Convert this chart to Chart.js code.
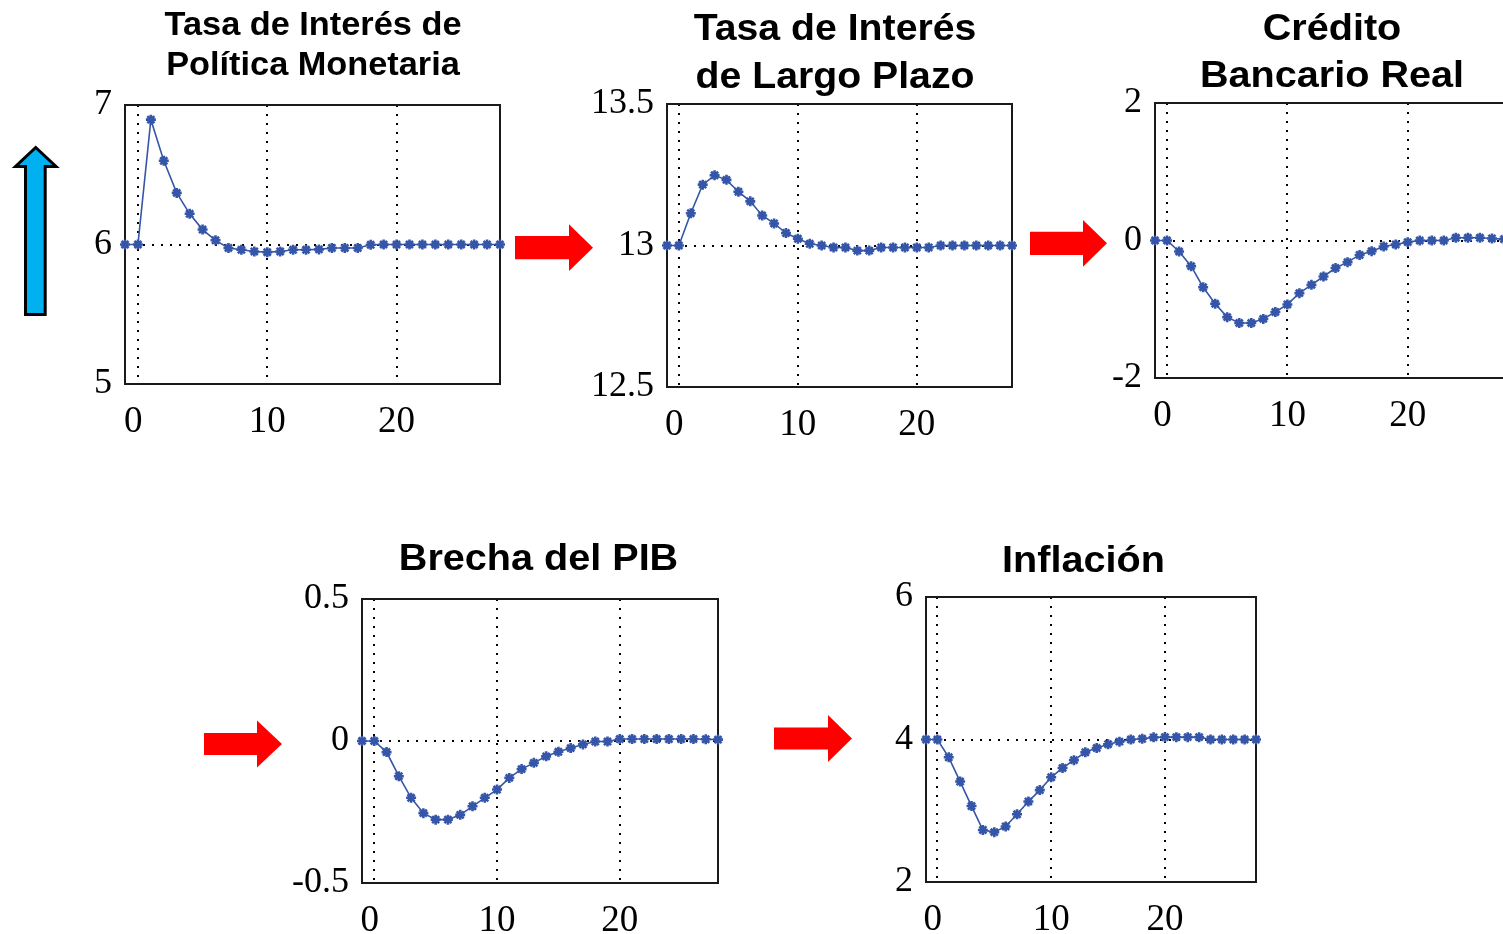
<!DOCTYPE html>
<html lang="es">
<head>
<meta charset="utf-8">
<title>Transmisión de la política monetaria</title>
<script src="https://cdn.jsdelivr.net/npm/chart.js@4.4.1/dist/chart.umd.min.js"></script>
<style>
  html, body { margin: 0; padding: 0; background: #fff; width: 1503px; height: 934px; overflow: hidden; }
  .panel { position: absolute; }
  #arrows { position: absolute; left: 0; top: 0; z-index: 5; pointer-events: none; }
</style>
</head>
<body>
<svg id="arrows" width="1503" height="934" xmlns="http://www.w3.org/2000/svg">
  <!-- policy-rate shock -->
  <polygon points="25.5,314.5 25.5,166.5 15.5,166.5 35.7,147.5 56,166.5 45.2,166.5 45.2,314.5"
           fill="#00B0F0" stroke="#000" stroke-width="3" stroke-linejoin="miter"/>
  <!-- transmission arrows -->
  <polygon points="515,236 569,236 569,224.3 593,247.7 569,271 569,259.3 515,259.3" fill="#FF0000"/>
  <polygon points="1030,231.7 1083,231.7 1083,220 1107,243.3 1083,266.7 1083,255 1030,255" fill="#FF0000"/>
  <polygon points="204,733 257,733 257,720.5 282,744 257,767.5 257,755 204,755" fill="#FF0000"/>
  <polygon points="774,727.5 828,727.5 828,715 852,738.5 828,762 828,749.5 774,749.5" fill="#FF0000"/>
</svg>

<script>
// Horizon (quarters) shared by every panel
const periods = [-1, 0, 1, 2, 3, 4, 5, 6, 7, 8, 9, 10, 11, 12, 13, 14,
                 15, 16, 17, 18, 19, 20, 21, 22, 23, 24, 25, 26, 27, 28];
const xTicks = [0, 10, 20];
const xTickLabels = ['0 ', '10', '20'];

// Impulse responses
const tasaPolitica = [6.0, 6.0, 6.895, 6.60, 6.37, 6.22, 6.107, 6.03, 5.975, 5.962,
                      5.95, 5.945, 5.95, 5.962, 5.962, 5.965, 5.975, 5.975, 5.975, 5.998,
                      6.0, 6.0, 6.0, 6.0, 6.0, 6.0, 6.0, 6.0, 6.0, 6.0];
const tasaLargo = [13.0, 13.0, 13.114, 13.215, 13.248, 13.232, 13.19, 13.156, 13.106, 13.078,
                   13.044, 13.024, 13.006, 13.0, 12.993, 12.993, 12.982, 12.982, 12.993, 12.993,
                   12.993, 12.993, 12.993, 13.0, 13.0, 13.0, 13.0, 13.0, 13.0, 13.0];
const creditoReal = [0, 0, -0.16, -0.373, -0.68, -0.92, -1.115, -1.20, -1.20, -1.14,
                     -1.04, -0.93, -0.766, -0.645, -0.524, -0.40, -0.315, -0.21, -0.155, -0.087,
                     -0.058, -0.024, 0, 0, 0, 0.04, 0.04, 0.04, 0.03, 0.02];
const brechaPib = [0, 0, -0.039, -0.124, -0.20, -0.254, -0.277, -0.277, -0.26, -0.23,
                   -0.20, -0.171, -0.130, -0.099, -0.077, -0.054, -0.038, -0.025, -0.012, -0.002,
                   -0.002, 0.007, 0.007, 0.007, 0.007, 0.007, 0.007, 0.007, 0.006, 0.005];
const inflacion = [4.0, 4.0, 3.75, 3.41, 3.066, 2.73, 2.70, 2.78, 2.95, 3.13,
                   3.29, 3.47, 3.60, 3.71, 3.82, 3.88, 3.934, 3.97, 4.0, 4.01,
                   4.03, 4.033, 4.033, 4.033, 4.033, 4.0, 4.0, 4.0, 4.0, 4.0];

// Axis ticks and their printed labels
const ticksPolitica = [5, 6, 7];          const labelsPolitica = ['5', '6', '7'];
const ticksLargo = [12.5, 13, 13.5];      const labelsLargo = ['12.5', '13', '13.5'];
const ticksCredito = [-2, 0, 2];          const labelsCredito = ['-2', '0', '2'];
const ticksBrecha = [-0.5, 0, 0.5];       const labelsBrecha = ['-0.5', '0', '0.5'];
const ticksInflacion = [2, 4, 6];         const labelsInflacion = ['2', '4', '6'];

// Titles
const tituloPolitica = ['Tasa de Interés de', 'Política Monetaria'];
const tituloLargo = ['Tasa de Interés', 'de Largo Plazo'];
const tituloCredito = ['Crédito', 'Bancario Real'];
const tituloBrecha = ['Brecha del PIB'];
const tituloInflacion = ['Inflación'];

// ---- layout and style ----
const AXIS_W = 90;
const AXIS_H = 60;
const RIGHT_PAD = 12;
const LINE_BLUE = '#3556A8';
const SERIF = "'Liberation Serif', 'Times New Roman', serif";
const SANS = "'Liberation Sans', Arial, sans-serif";

const panels = [
  { values: tasaPolitica, ticks: ticksPolitica, labels: labelsPolitica, title: tituloPolitica,
    box: { left: 125, top: 105, right: 500, bottom: 384 }, originY: 0,
    titleFont: 33, titleStretch: 1.04, titleX: 313, titleBase: [35, 75] },
  { values: tasaLargo, ticks: ticksLargo, labels: labelsLargo, title: tituloLargo,
    box: { left: 667, top: 104, right: 1012, bottom: 387 }, originY: 0,
    titleFont: 37, titleStretch: 1.06, titleX: 835, titleBase: [40, 88] },
  { values: creditoReal, ticks: ticksCredito, labels: labelsCredito, title: tituloCredito,
    box: { left: 1155, top: 103, right: 1504, bottom: 378 }, originY: 0,
    titleFont: 37, titleStretch: 1.07, titleX: 1332, titleBase: [40, 87] },
  { values: brechaPib, ticks: ticksBrecha, labels: labelsBrecha, title: tituloBrecha,
    box: { left: 362, top: 599, right: 718, bottom: 883 }, originY: 520,
    titleFont: 37, titleStretch: 1.07, titleX: 538.5, titleBase: [570] },
  { values: inflacion, ticks: ticksInflacion, labels: labelsInflacion, title: tituloInflacion,
    box: { left: 926, top: 597, right: 1256, bottom: 882 }, originY: 520,
    titleFont: 37, titleStretch: 1.07, titleX: 1083.5, titleBase: [572] }
];

// Frame around the plotting area and the panel title
const framePlugin = {
  id: 'frameAndTitle',
  beforeDatasetsDraw(chart, args, opts) {
    const a = chart.chartArea;
    const ctx = chart.ctx;
    ctx.save();
    ctx.strokeStyle = '#1a1a1a';
    ctx.lineWidth = 2;
    ctx.strokeRect(a.left, a.top, a.right - a.left, a.bottom - a.top);
    ctx.restore();
  },
  afterDraw(chart, args, opts) {
    const ctx = chart.ctx;
    ctx.save();
    ctx.fillStyle = '#000';
    ctx.font = 'bold ' + opts.size + 'px ' + SANS;
    ctx.textAlign = 'center';
    ctx.textBaseline = 'alphabetic';
    opts.lines.forEach((line, i) => {
      ctx.save();
      ctx.translate(opts.x, opts.baselines[i]);
      ctx.scale(opts.stretch, 1);
      ctx.fillText(line, 0, 0);
      ctx.restore();
    });
    ctx.restore();
  }
};

panels.forEach(p => {
  const x0 = p.box.left - AXIS_W;
  const y0 = p.originY;
  const w = (p.box.right - p.box.left) + AXIS_W + RIGHT_PAD;
  const h = (p.box.bottom - y0) + AXIS_H;

  const div = document.createElement('div');
  div.className = 'panel';
  div.style.left = x0 + 'px';
  div.style.top = y0 + 'px';
  div.style.width = w + 'px';
  div.style.height = h + 'px';
  const canvas = document.createElement('canvas');
  div.appendChild(canvas);
  document.body.appendChild(div);

  const mid = p.ticks[1];

  new Chart(canvas, {
    type: 'line',
    data: {
      datasets: [{
        data: periods.map((x, i) => ({ x: x, y: p.values[i] })),
        borderColor: LINE_BLUE,
        backgroundColor: LINE_BLUE,
        borderWidth: 1.6,
        tension: 0,
        pointStyle: 'star',
        pointRadius: 5,
        pointBorderWidth: 2.6,
        pointBorderColor: LINE_BLUE,
        pointBackgroundColor: LINE_BLUE,
        clip: false
      }]
    },
    options: {
      responsive: true,
      maintainAspectRatio: false,
      animation: false,
      events: [],
      layout: {
        autoPadding: false,
        padding: { top: p.box.top - y0, right: RIGHT_PAD, left: 0, bottom: 0 }
      },
      plugins: {
        legend: { display: false },
        tooltip: { enabled: false },
        title: { display: false },
        frameAndTitle: {
          lines: p.title,
          size: p.titleFont,
          stretch: p.titleStretch,
          x: p.titleX - x0,
          baselines: p.titleBase.map(b => b - y0)
        }
      },
      scales: {
        x: {
          type: 'linear',
          min: -1,
          max: 28,
          afterBuildTicks: s => { s.ticks = xTicks.map(v => ({ value: v })); },
          afterFit: s => { s.height = AXIS_H; },
          grid: { drawTicks: false, color: '#000', lineWidth: 2 },
          border: { display: false, dash: [2, 7] },
          ticks: {
            color: '#000',
            font: { family: SERIF, size: 37, lineHeight: 1.2 },
            padding: 16,
            maxRotation: 0,
            autoSkip: false,
            callback: (v, i) => xTickLabels[i]
          }
        },
        y: {
          type: 'linear',
          min: p.ticks[0],
          max: p.ticks[2],
          afterBuildTicks: s => { s.ticks = p.ticks.map(v => ({ value: v })); },
          afterFit: s => { s.width = AXIS_W; },
          grid: {
            drawTicks: false,
            lineWidth: 2,
            color: c => (c.tick && c.tick.value === mid) ? '#000' : 'rgba(0,0,0,0)'
          },
          border: { display: false, dash: [2, 7] },
          ticks: {
            color: '#000',
            font: { family: SERIF, size: 36, lineHeight: 1.2 },
            padding: 13,
            autoSkip: false,
            callback: (v, i) => p.labels[i]
          }
        }
      }
    },
    plugins: [framePlugin]
  });
});
</script>
</body>
</html>
